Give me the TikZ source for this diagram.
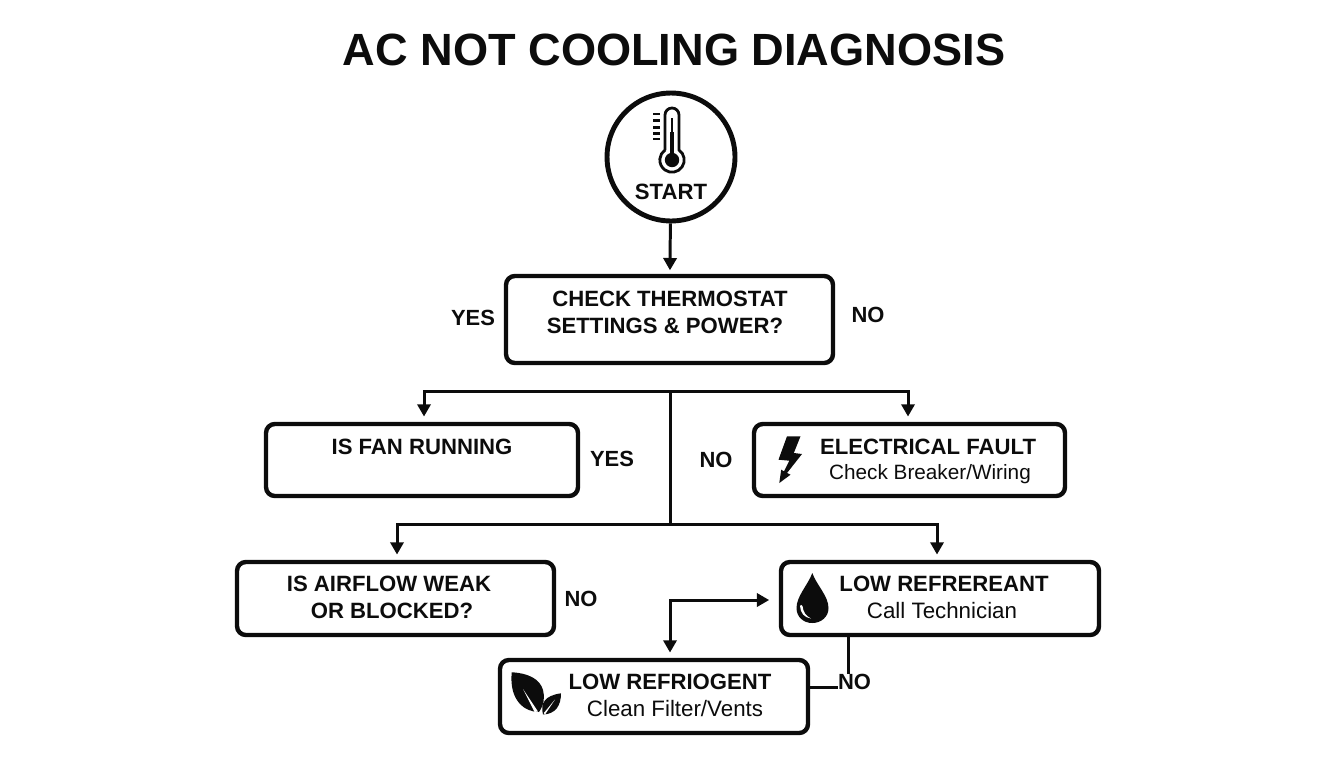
\documentclass[tikz,border=0pt]{standalone}
\usepackage{fontspec}
\setmainfont{Liberation Sans}
\usetikzlibrary{arrows.meta}
\definecolor{ink}{HTML}{0C0C0C}
\tikzset{
  flowbox/.style={draw=ink,line width=2.5pt,rounded corners=5pt,inner sep=0pt},
  flowline/.style={draw=ink,line width=1.7pt},
  flowarrow/.style={flowline,-{Triangle[length=7pt,width=7.5pt]}},
  headlabel/.style={text=ink,inner sep=0pt,font=\fontsize{12.6pt}{14pt}\selectfont\bfseries},
  sublabel/.style={text=ink,inner sep=0pt,font=\fontsize{11.8pt}{14pt}\selectfont},
  widesub/.style={text=ink,inner sep=0pt,font=\fontsize{12.7pt}{14pt}\selectfont},
  answerlabel/.style={text=ink,inner sep=0pt,font=\fontsize{12.5pt}{14pt}\selectfont\bfseries}
}
\begin{document}
\begin{tikzpicture}[x=0.02cm,y=-0.02cm]
\useasboundingbox (0,0) rectangle (1344,768);
\node [text=ink,inner sep=0pt,font=\fontsize{25.7pt}{30pt}\selectfont\bfseries] (title) at (674,50) {AC NOT COOLING DIAGNOSIS};
\node [circle,draw=ink,line width=2.8pt,minimum size=2.56cm,inner sep=0pt] (start) at (671,157) {};
\node [flowbox,minimum width=6.54cm,minimum height=1.74cm] (check) at (669.5,319.5) {};
\node [flowbox,minimum width=6.24cm,minimum height=1.44cm] (fan) at (422,460) {};
\node [flowbox,minimum width=6.22cm,minimum height=1.44cm] (fault) at (909.5,460) {};
\node [flowbox,minimum width=6.34cm,minimum height=1.46cm] (airflow) at (395.5,598.5) {};
\node [flowbox,minimum width=6.36cm,minimum height=1.46cm] (refrereant) at (940,598.5) {};
\node [flowbox,minimum width=6.16cm,minimum height=1.46cm] (refriogent) at (654,696.5) {};
\node [headlabel] (starttext) at (671,192) {START};
\node [headlabel] (checkone) at (670,299) {CHECK THERMOSTAT};
\node [headlabel] (checktwo) at (665,326) {SETTINGS \& POWER?};
\node [headlabel] (fantext) at (422,447) {IS FAN RUNNING};
\node [headlabel] (faulttext) at (928,447) {ELECTRICAL FAULT};
\node [sublabel] (faultsub) at (930,474) {Check Breaker/Wiring};
\node [headlabel] (airone) at (389,584) {IS AIRFLOW WEAK};
\node [headlabel] (airtwo) at (392,611) {OR BLOCKED?};
\node [headlabel] (refrtext) at (944,584) {LOW REFREREANT};
\node [widesub] (refrsub) at (942,611) {Call Technician};
\node [headlabel] (refgtext) at (670,682) {LOW REFRIOGENT};
\node [widesub] (refgsub) at (675,709) {Clean Filter/Vents};
\node [answerlabel] (yesa) at (473,318) {YES};
\node [answerlabel] (noa) at (868,315) {NO};
\node [answerlabel] (yesb) at (612,459) {YES};
\node [answerlabel] (nob) at (716,460) {NO};
\node [answerlabel] (noc) at (581,599) {NO};
\node [answerlabel] (nod) at (854.5,682) {NO};
\coordinate (busa) at (670,391);
\coordinate (busaleft) at (424,391);
\coordinate (busaright) at (908,391);
\coordinate (busb) at (670,524);
\coordinate (busbleft) at (397,524);
\coordinate (busbright) at (937,524);
\coordinate (corner) at (670,600);
\coordinate (refrdrop) at (848,637);
\draw [flowarrow,shorten >=2pt] (start) -- (check);
\draw [flowline] (busa) -- (busb);
\draw [flowarrow,shorten >=3pt] (busa) -- (busaleft) -- (busaleft |- fan.north);
\draw [flowarrow,shorten >=3pt] (busa) -- (busaright) -- (busaright |- fault.north);
\draw [flowarrow,shorten >=3pt] (busb) -- (busbleft) -- (busbleft |- airflow.north);
\draw [flowarrow,shorten >=3pt] (busb) -- (busbright) -- (busbright |- refrereant.north);
\draw [flowline,{Triangle[length=7pt,width=7.5pt]}-{Triangle[length=7pt,width=7.5pt]},shorten <=5.5pt,shorten >=3pt] (corner -| refrereant.west) -- (corner) -- (corner |- refriogent.north);
\draw [flowline] (refrdrop) -- (refrdrop |- nod.north);
\draw [flowline] (refriogent.east |- 0,687) -- (nod.west |- 0,687);
% thermometer
\draw [ink,line width=1.6pt] (665,150) -- (665,115) arc [start angle=180,end angle=360,radius=7] -- (679,150) arc [start angle=-55,end angle=235,radius=12.2];
\fill [ink] (672,160) circle (7.2);
\fill [ink] (670,132) rectangle (674,155);
\draw [ink,line width=1pt] (672,118) -- (672,135);
\foreach \ticky in {114,120.7,127.7,133.5,139}
  \draw [ink,line width=1.4pt] (653,\ticky) -- (660,\ticky);
% bolt
\fill [ink] (787,436.3) -- (800.5,436.3) -- (793.8,453) -- (802,454) -- (787,473) -- (790.5,474.7) -- (779.3,483) -- (781.2,469.7) -- (784,471.3) -- (789.3,460.7) -- (778.5,459.7) -- cycle;
% drop
\fill [ink] (812.3,573) .. controls (816.5,585) and (828.5,596) .. (828.5,608) .. controls (828.5,617) and (821,623) .. (812.3,623) .. controls (803.5,623) and (796.5,617) .. (796.5,608) .. controls (796.5,596) and (808,585) .. (812.3,573) -- cycle;
\fill [white] (800,606) .. controls (800.5,613) and (804,617.5) .. (811,618.5) .. controls (806,616) and (803,612) .. (802.5,606) .. controls (802,604.5) and (800,604.5) .. (800,606) -- cycle;
% leaves
\fill [ink] (511.7,672.3) .. controls (528,673) and (540,679) .. (543,690) .. controls (545,697) and (544,705) .. (539,712) .. controls (525,712) and (509,701) .. (511.7,672.3) -- cycle;
\fill [ink] (561,693.3) .. controls (561,705) and (556,714) .. (543,714.5) .. controls (540,703) and (545,695.5) .. (561,693.3) -- cycle;
\fill [white] (523,689) -- (538,711.5) -- (534.5,712) -- cycle;
\fill [white] (555,699.5) -- (545,714.5) -- (543.8,713) -- cycle;
\end{tikzpicture}
\end{document}
